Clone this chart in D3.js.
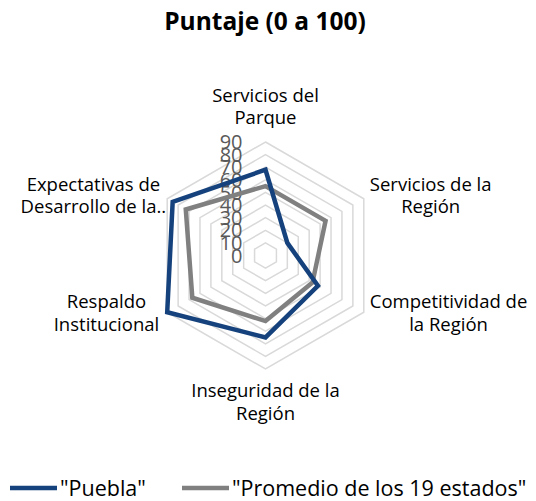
<!DOCTYPE html>
<html>
<head>
<meta charset="utf-8">
<script src="https://cdn.jsdelivr.net/npm/d3@7"></script>
<style>
  html, body { margin: 0; padding: 0; background: #fff; }
  svg { display: block; }
  text { font-family: "Open Sans", sans-serif; }
</style>
</head>
<body>
<svg id="chart" width="536" height="501"></svg>
<script>
const title = "Puntaje (0 a 100)";
const categories = [
  ["Servicios del", "Parque"],
  ["Servicios de la", "Región"],
  ["Competitividad de", "la Región"],
  ["Inseguridad de la", "Región"],
  ["Respaldo", "Institucional"],
  ["Expectativas de", "Desarrollo de la.."]
];
const seriesNames = ["\"Puebla\"", "\"Promedio de los 19 estados\""];
const pueblaValues = [68, 20, 48, 65, 90, 85];
const promedioValues = [55, 55, 43, 52, 67, 73];
const tickValues = [0, 10, 20, 30, 40, 50, 60, 70, 80, 90];
const seriesColors = ["#15427c", "#808080"];

const svg = d3.select("#chart");
const cx = 265.5, cy = 255.5, R = 113.5;
const r = d3.scaleLinear().domain([0, 90]).range([0, R]);
const angle = d3.scaleLinear().domain([0, categories.length]).range([0, 2 * Math.PI]);
const pt = (i, v) => [cx + r(v) * Math.sin(angle(i)), cy - r(v) * Math.cos(angle(i))];

// title
svg.append("text").attr("x", 265).attr("y", 29.5).attr("text-anchor", "middle")
  .attr("font-size", 24.5).attr("font-weight", "bold").attr("fill", "#000").text(title);

// grid rings
const ringLine = d3.line();
tickValues.filter(t => t > 0).forEach(t => {
  const pts = categories.map((c, i) => pt(i, t));
  svg.append("path").attr("d", ringLine(pts) + "Z")
    .attr("fill", "none").attr("stroke", "#d9d9d9").attr("stroke-width", 1.5);
});

// tick labels
svg.append("g").selectAll("text").data(tickValues).join("text")
  .attr("x", cx - 23).attr("y", d => cy - r(d)).attr("dy", "0.36em")
  .attr("text-anchor", "end").attr("font-size", 20).attr("fill", "#595959")
  .text(d => d);

// series
const radial = d3.line();
[pueblaValues, promedioValues].slice().reverse().forEach((vals, k) => {
  const idx = 1 - k;
  const pts = vals.map((v, i) => pt(i, v));
  svg.append("path").attr("d", radial(pts) + "Z")
    .attr("fill", "none").attr("stroke", seriesColors[idx])
    .attr("stroke-width", 4.5).attr("stroke-linejoin", "miter");
});

// category labels
const fs = 18.5, lh = 22.5;
categories.forEach((lines, i) => {
  const [ax, ay] = pt(i, 90);
  const g = svg.append("g");
  const t = g.append("text").attr("font-size", fs).attr("fill", "#000").attr("text-anchor", "middle");
  lines.forEach((l, j) => t.append("tspan").attr("x", 0).attr("y", j * lh).text(l));
  const w = t.node().getBBox().width;
  let tx, ty;
  const s = Math.sin(angle(i)), c = Math.cos(angle(i));
  if (Math.abs(s) < 0.01) {
    tx = ax;
    ty = c > 0 ? ay - 40.3 : ay + 28.3;
  } else {
    ty = c > 0 ? ay - 8 : ay - 4;
    tx = s > 0 ? ax + 6 + w / 2 : ax - (i === 5 ? 1 : 8) - w / 2;
  }
  g.attr("transform", `translate(${tx},${ty})`);
});

// legend
const lg = svg.append("g");
const legX = [10, 182];
seriesNames.forEach((n, i) => {
  lg.append("line").attr("x1", legX[i]).attr("x2", legX[i] + 47)
    .attr("y1", 488).attr("y2", 488)
    .attr("stroke", seriesColors[i]).attr("stroke-width", 4.5);
  lg.append("text").attr("x", legX[i] + 50).attr("y", 496)
    .attr("font-size", 21.5).attr("fill", "#000").text(n);
});
</script>
</body>
</html>
